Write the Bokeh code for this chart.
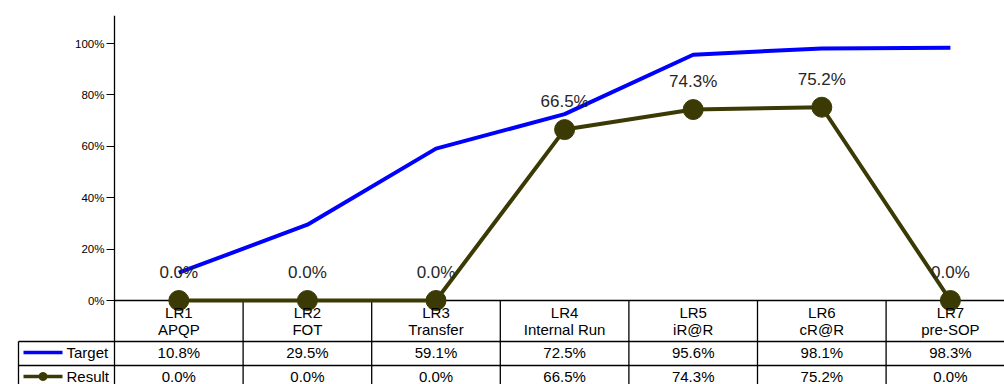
from bokeh.plotting import figure
from bokeh.models import Range1d, LinearAxis, FixedTicker, ColumnDataSource
from bokeh.core.properties import value
from bokeh.embed import file_html
from bokeh.resources import INLINE

# ---- data ----
stage_codes = ["LR1", "LR2", "LR3", "LR4", "LR5", "LR6", "LR7"]
stage_names = ["APQP", "FOT", "Transfer", "Internal Run", "iR@R", "cR@R", "pre-SOP"]
target = [10.8, 29.5, 59.1, 72.5, 95.6, 98.1, 98.3]
result = [0.0, 0.0, 0.0, 66.5, 74.3, 75.2, 0.0]
series_names = ["Target", "Result"]
y_ticks = [0, 20, 40, 60, 80, 100]
y_tick_labels = ["0%", "20%", "40%", "60%", "80%", "100%"]

# ---- layout (pixel geometry of the reference) ----
W, H = 1004, 384
TOP = 15
X_LEFT_PX = 114.0        # left edge of first category band
BAND_PX = 128.6          # category band width
Y0_PX = 300.0            # pixel row of 0 %
PX_PER_PCT = 2.57

def px_to_x(px):
    return -0.5 + (px - X_LEFT_PX) / BAND_PX

def px_to_y(py):
    return (Y0_PX - py) / PX_PER_PCT

BLUE = "#0000ff"
OLIVE = "#3b3a05"
FONT = "Liberation Sans"
n = len(stage_codes)
xs = list(range(n))

p = figure(width=W, height=H, output_backend="svg", toolbar_location=None,
           x_range=Range1d(px_to_x(0), px_to_x(W)),
           y_range=Range1d(px_to_y(H), px_to_y(TOP)),
           x_axis_location=None, y_axis_location=None,
           min_border_left=0, min_border_right=0, min_border_top=TOP, min_border_bottom=0)
p.outline_line_color = None
p.grid.visible = False
p.background_fill_color = "white"

yax = LinearAxis(ticker=FixedTicker(ticks=y_ticks),
                 major_label_overrides={t: l for t, l in zip(y_ticks, y_tick_labels)},
                 fixed_location=-0.5)
yax.axis_line_color = "black"
yax.axis_line_width = 1.3
yax.major_tick_out = 8
yax.major_tick_in = 0
yax.minor_tick_out = 0
yax.minor_tick_in = 0
yax.major_tick_line_color = "black"
yax.major_label_standoff = 2
yax.major_label_text_font = FONT
yax.major_label_text_font_size = "11.5px"
yax.major_label_text_color = "black"
p.add_layout(yax, "left")

# ---- table grid ----
row1_y = px_to_y(341)
row2_y = px_to_y(365)
bottom_y = px_to_y(H + 5)
right_x = px_to_x(W + 5)
legend_left = px_to_x(18)
grid_color = "black"
# x axis (0 line)
p.segment(x0=[-0.5], y0=[0], x1=[right_x], y1=[0], line_color=grid_color, line_width=1.3)
# horizontal row separators
p.segment(x0=[legend_left, legend_left], y0=[row1_y, row2_y], x1=[right_x, right_x], y1=[row1_y, row2_y],
          line_color=grid_color, line_width=1.3)
# vertical separators between categories
bounds = [i + 0.5 for i in range(n)]
p.segment(x0=bounds, y0=[0] * n, x1=bounds, y1=[bottom_y] * n, line_color=grid_color, line_width=1.3)
p.segment(x0=[legend_left], y0=[row1_y], x1=[legend_left], y1=[bottom_y], line_color=grid_color, line_width=1.3)

# ---- series ----
p.line(xs, target, line_color=BLUE, line_width=4)
p.line(xs, result, line_color=OLIVE, line_width=4)
p.scatter(xs, result, size=20, fill_color=OLIVE, line_color=OLIVE)

lbl = ColumnDataSource(dict(x=xs, y=result, t=["%.1f%%" % v for v in result]))
p.text(x="x", y="y", text="t", source=lbl, text_align="center", text_baseline="middle",
       y_offset=-28, text_font=value(FONT), text_font_size="17px", text_color="#262626")

# ---- table texts ----
tf = dict(text_align="center", text_baseline="middle", text_font=value(FONT),
          text_font_size="15px", text_color="black")
p.text(x=xs, y=[px_to_y(312)] * n, text=stage_codes, **tf)
p.text(x=xs, y=[px_to_y(329)] * n, text=stage_names, **tf)
p.text(x=xs, y=[px_to_y(352)] * n, text=["%.1f%%" % v for v in target], **tf)
p.text(x=xs, y=[px_to_y(376)] * n, text=["%.1f%%" % v for v in result], **tf)

# ---- legend cells ----
lx0, lx1 = px_to_x(23), px_to_x(62)
p.line([lx0, lx1], [px_to_y(352)] * 2, line_color=BLUE, line_width=3.5)
p.line([lx0, lx1], [px_to_y(376)] * 2, line_color=OLIVE, line_width=3.5)
p.scatter([(lx0 + lx1) / 2], [px_to_y(376)], size=8, fill_color=OLIVE, line_color=OLIVE)
p.text(x=[px_to_x(66)] * 2, y=[px_to_y(352), px_to_y(376)], text=series_names,
       text_align="left", text_baseline="middle", text_font=value(FONT),
       text_font_size="15px", text_color="black")

open("out.html", "w").write(file_html(p, INLINE))
